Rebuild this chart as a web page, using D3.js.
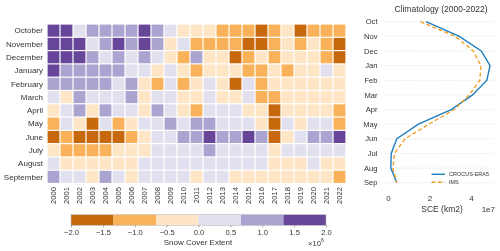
<!DOCTYPE html>
<html>
<head>
<meta charset="utf-8">
<script src="https://cdn.jsdelivr.net/npm/d3@7"></script>
<style>
body { margin: 0; background: #fff; }
svg { will-change: transform; }
text { font-family: "Liberation Sans", Arial, sans-serif; fill: #333; }
</style>
</head>
<body>
<svg width="500" height="251"></svg>
<script>
var months = ["October", "November", "December", "January", "February", "March",
              "April", "May", "June", "July", "August", "September"];
var monthsShort = ["Oct", "Nov", "Dec", "Jan", "Feb", "Mar", "Apr", "May", "Jun", "Jul", "Aug", "Sep"];
var years = ["2000", "2001", "2002", "2003", "2004", "2005", "2006", "2007", "2008", "2009", "2010", "2011",
             "2012", "2013", "2014", "2015", "2016", "2017", "2018", "2019", "2020", "2021", "2022"];

// SCE anomaly per month (x 1e6 km2), one value per year 2000..2022
var anomOct = [1.6, 1.5, 0.3, 1.0, 0.9, 1.0, 0.9, 1.6, 1.0, 0.3, -0.3, -0.3, -0.3, -1.0, -1.0, -0.9, -1.6, -1.0, -0.3, -1.5, -1.0, -1.0, -0.9];
var anomNov = [1.6, 1.6, 1.5, 0.3, 1.0, 1.6, 1.0, 1.6, 1.0, -0.3, 0.3, -1.0, -1.0, -1.0, -1.0, -1.5, -1.6, -1.0, -0.3, -1.0, -0.3, -1.0, -1.5];
var anomDec = [1.6, 1.5, 1.6, 1.0, 0.3, 1.0, 0.3, 1.0, 0.3, -0.3, -1.0, 1.0, -0.3, -0.3, -1.5, -1.0, -0.3, -1.0, -0.3, -0.3, -0.3, -1.0, -1.5];
var anomJan = [1.6, 1.0, 1.0, 1.0, 1.0, 1.0, 0.3, 0.3, -0.3, 0.3, -0.3, -1.0, -0.3, -0.3, -0.3, -1.0, -1.0, -0.3, -1.0, -0.3, -0.3, 0.3, -0.3];
var anomFeb = [1.0, 1.0, 1.0, 1.0, 1.0, 0.3, 1.0, -0.3, -1.0, 0.3, -1.0, -0.3, 0.3, -0.3, -1.5, 0.3, -1.0, -0.3, -0.3, -0.3, -0.3, -0.3, -0.3];
var anomMar = [0.3, -0.3, 1.0, 0.3, 0.3, 0.3, 1.0, -0.3, 0.3, 0.3, -0.3, -0.3, 0.3, -0.3, -0.3, 0.3, -1.0, -1.0, -0.3, -0.3, -0.3, -0.3, -0.3];
var anomApr = [-0.3, 0.3, 1.0, -0.3, 1.0, 0.3, 0.3, -0.3, 1.0, 0.3, -0.3, -1.0, 0.3, 0.3, 0.3, -0.3, -0.3, -1.6, -0.3, -0.3, -0.3, -0.3, -1.0];
var anomMay = [-1.0, 0.3, -0.3, -1.6, 0.3, -1.0, -0.3, 0.3, 0.3, 1.0, 0.3, 1.0, 1.0, 0.3, 0.3, 0.3, -0.3, -1.6, 0.3, -0.3, 0.3, 0.3, -1.0];
var anomJun = [-1.6, -1.0, -1.6, -1.5, -1.6, -1.5, -1.0, -0.3, 0.3, 0.3, 1.0, 1.0, 1.6, 1.0, 1.0, 1.6, 1.0, -1.6, -0.3, 0.3, 1.0, 1.0, 1.6];
var anomJul = [-0.3, -1.0, -1.0, -1.0, -1.0, -0.3, -0.3, -0.3, 0.3, 0.3, 0.3, 0.3, 1.0, 0.3, 0.3, 0.3, 0.3, -0.3, 0.3, 0.3, 0.3, 0.3, 0.3];
var anomAug = [0.3, -0.3, -0.3, -0.3, -0.3, -0.3, -0.3, 0.3, 0.3, 0.3, 0.3, 0.3, 0.3, 0.3, 0.3, 0.3, 0.3, -0.3, -0.3, -0.3, 0.3, -0.3, -0.3];
var anomSep = [1.0, 0.3, 0.3, -0.3, 1.0, 0.3, -0.3, 0.3, 0.3, 0.3, 0.3, -0.3, 0.3, 0.3, -0.3, -0.3, -0.3, -0.3, -0.3, -0.3, -0.3, -0.3, -1.0];

var cbTicks = [-2.0, -1.5, -1.0, -0.5, 0.0, 0.5, 1.0, 1.5, 2.0];

// climatology (km2), Oct..Sep
var crocusSce = [1.84e7, 3.44e7, 4.50e7, 4.92e7, 4.77e7, 4.08e7, 3.05e7, 1.47e7, 0.43e7, 0.16e7, 0.14e7, 0.43e7];
var imsSce = [1.57e7, 3.25e7, 4.11e7, 4.48e7, 4.43e7, 3.92e7, 3.20e7, 1.98e7, 0.82e7, 0.32e7, 0.24e7, 0.43e7];

var svg = d3.select("svg");

// ---------- heatmap ----------
var anom = [anomOct, anomNov, anomDec, anomJan, anomFeb, anomMar,
            anomApr, anomMay, anomJun, anomJul, anomAug, anomSep];

var x = d3.scaleBand().domain(years).range([47, 346]);
var y = d3.scaleBand().domain(months).range([24, 183.5]);

var color = d3.scaleThreshold()
    .domain([-4 / 3, -2 / 3, 0, 2 / 3, 4 / 3])
    .range(["#c8680d", "#f9b259", "#fde5c6", "#e1e0ee", "#aba3d0", "#67469a"]);

var cells = [];
anom.forEach(function(row, i) {
    row.forEach(function(v, j) {
        cells.push({month: months[i], year: years[j], value: v});
    });
});

svg.append("g").selectAll("rect")
    .data(cells)
    .enter().append("rect")
    .attr("x", function(d) { return x(d.year) + 0.6; })
    .attr("y", function(d) { return y(d.month) + 0.6; })
    .attr("width", x.bandwidth() - 1.2)
    .attr("height", y.bandwidth() - 1.2)
    .attr("fill", function(d) { return color(d.value); });

svg.append("g").selectAll("text")
    .data(months)
    .enter().append("text")
    .attr("x", 43)
    .attr("y", function(d) { return y(d) + y.bandwidth() / 2; })
    .attr("dy", "0.35em")
    .attr("text-anchor", "end")
    .attr("font-size", 8)
    .attr("fill", "#333")
    .text(function(d) { return d; });

svg.append("g").selectAll("text")
    .data(years)
    .enter().append("text")
    .attr("transform", function(d) {
        return "translate(" + (x(d) + x.bandwidth() / 2) + ",187) rotate(-90)";
    })
    .attr("dy", "0.35em")
    .attr("text-anchor", "end")
    .attr("font-size", 7.6)
    .attr("fill", "#333")
    .text(function(d) { return d; });

// ---------- colorbar ----------
var cb = d3.scaleLinear().domain([-2, 2]).range([71, 326]);
var bounds = [-2].concat(color.domain()).concat([2]);
var cbg = svg.append("g");
cbg.selectAll("rect")
    .data(d3.pairs(bounds))
    .enter().append("rect")
    .attr("x", function(d) { return cb(d[0]); })
    .attr("y", 214.7)
    .attr("width", function(d) { return cb(d[1]) - cb(d[0]); })
    .attr("height", 10.6)
    .attr("fill", function(d) { return color((d[0] + d[1]) / 2); });
cbg.append("rect")
    .attr("x", 71).attr("y", 214.7)
    .attr("width", 255).attr("height", 10.6)
    .attr("fill", "none").attr("stroke", "#bbb").attr("stroke-width", 0.6);

var cbAxis = svg.append("g")
    .attr("transform", "translate(0,225.3)")
    .call(d3.axisBottom(cb).tickValues(cbTicks).tickFormat(d3.format(".1f")).tickSize(2).tickPadding(2));
cbAxis.select(".domain").remove();
cbAxis.selectAll("line").attr("stroke", "#666").attr("stroke-width", 0.6);
cbAxis.selectAll("text").attr("font-size", 7.6).attr("font-family", null).attr("fill", "#333");

svg.append("text")
    .attr("x", 198).attr("y", 244.5)
    .attr("text-anchor", "middle")
    .attr("font-size", 8)
    .attr("fill", "#333")
    .text("Snow Cover Extent");

var sci = svg.append("text")
    .attr("x", 308).attr("y", 246)
    .attr("font-size", 7.6)
    .attr("fill", "#333");
sci.append("tspan").text("\u00d710");
sci.append("tspan").attr("dy", -4).attr("font-size", 5).text("6");

// ---------- climatology ----------
var xc = d3.scaleLinear().domain([-0.14e7, 5.16e7]).range([385, 495]);
var yc = d3.scalePoint().domain(monthsShort).range([21.7, 182.7]);

svg.append("text")
    .attr("x", 441).attr("y", 11.5)
    .attr("text-anchor", "middle")
    .attr("font-size", 8.5)
    .attr("fill", "#333")
    .text("Climatology (2000-2022)");

svg.append("g").selectAll("line")
    .data(monthsShort)
    .enter().append("line")
    .attr("x1", 385).attr("x2", 495)
    .attr("y1", function(d) { return yc(d); })
    .attr("y2", function(d) { return yc(d); })
    .attr("stroke", "#ccc")
    .attr("stroke-width", 0.6)
    .attr("stroke-dasharray", "1,1.5");

svg.append("g").selectAll("text")
    .data(monthsShort)
    .enter().append("text")
    .attr("x", 377.5)
    .attr("y", function(d) { return yc(d); })
    .attr("dy", "0.35em")
    .attr("text-anchor", "end")
    .attr("font-size", 7.6)
    .attr("fill", "#333")
    .text(function(d) { return d; });

var xAxis = svg.append("g")
    .attr("transform", "translate(0,190)")
    .call(d3.axisBottom(xc).tickValues([0, 2e7, 4e7]).tickFormat(function(d) { return d / 1e7; }).tickSize(0).tickPadding(5));
xAxis.select(".domain").remove();
xAxis.selectAll("text").attr("font-size", 8).attr("font-family", null).attr("fill", "#333");

svg.append("text")
    .attr("x", 442).attr("y", 212)
    .attr("text-anchor", "middle")
    .attr("font-size", 8.5)
    .attr("fill", "#333")
    .text("SCE (km2)");
svg.append("text")
    .attr("x", 495).attr("y", 212)
    .attr("text-anchor", "end")
    .attr("font-size", 8)
    .attr("fill", "#333")
    .text("1e7");

var line = d3.line()
    .x(function(d) { return xc(d); })
    .y(function(d, i) { return yc(monthsShort[i]); });

svg.append("path")
    .datum(crocusSce)
    .attr("d", line)
    .attr("fill", "none")
    .attr("stroke", "#1f7fc0")
    .attr("stroke-width", 1.4);

svg.append("path")
    .datum(imsSce)
    .attr("d", line)
    .attr("fill", "none")
    .attr("stroke", "#f0a02a")
    .attr("stroke-width", 1.4)
    .attr("stroke-dasharray", "4,2.5");

// legend
var legend = [{name: "CROCUS-ERA5", color: "#1f7fc0", dash: null},
              {name: "IMS", color: "#f0a02a", dash: "4,2.5"}];
var lg = svg.append("g").selectAll("g")
    .data(legend)
    .enter().append("g")
    .attr("transform", function(d, i) { return "translate(0," + (174.3 + i * 8) + ")"; });
lg.append("line")
    .attr("x1", 431.5).attr("x2", 445)
    .attr("stroke", function(d) { return d.color; })
    .attr("stroke-width", 1.4)
    .attr("stroke-dasharray", function(d) { return d.dash; });
lg.append("text")
    .attr("x", 449)
    .attr("dy", "0.35em")
    .attr("font-size", 5.5)
    .attr("fill", "#555")
    .text(function(d) { return d.name; });
</script>
</body>
</html>
